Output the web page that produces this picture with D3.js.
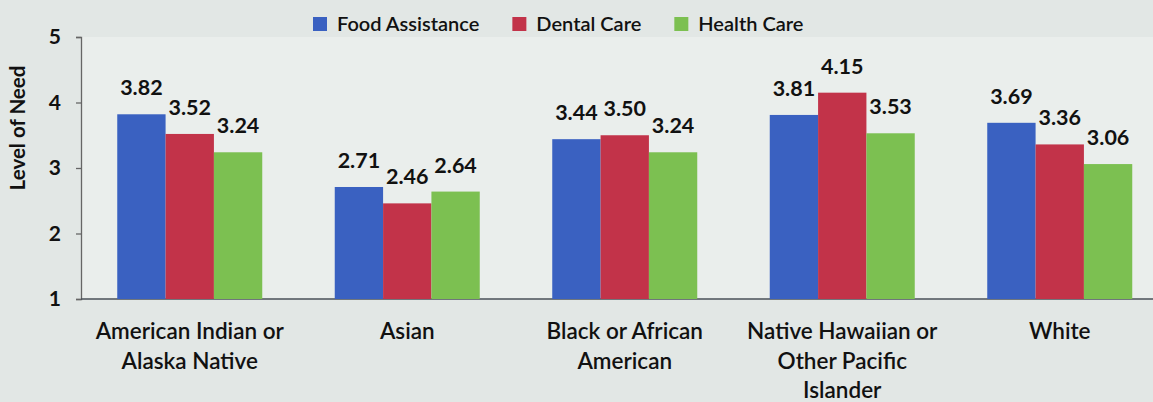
<html>
<head>
    <style>
        body {
            margin: 0;
            font-family: Lato, "Open Sans", sans-serif;
        }
    </style>
    <script src="https://cdn.jsdelivr.net/npm/d3@7"></script>
</head>
<body>
    <div class="mainView"></div>
</body>
<script>
    // values
    let groups = ["American Indian or Alaska Native", "Asian", "Black or African American",
        "Native Hawaiian or Other Pacific Islander", "White"]
    let groupLines = [
        ["American Indian or", "Alaska Native"],
        ["Asian"],
        ["Black or African", "American"],
        ["Native Hawaiian or", "Other Pacific", "Islander"],
        ["White"]
    ]
    let series = ["Food Assistance", "Dental Care", "Health Care"]
    let foodAssistance = [3.82, 2.71, 3.44, 3.81, 3.69]
    let dentalCare = [3.52, 2.46, 3.50, 4.15, 3.36]
    let healthCare = [3.24, 2.64, 3.24, 3.53, 3.06]
    let yTicks = [1, 2, 3, 4, 5]
    let colors = ["#3a61c1", "#c23349", "#7cc051"]

    function getChartConfig() {
        let width = 1153;
        let height = 402;
        let margin = { top: 37, left: 81 }
        let bodyHeight = 262;
        let bodyWidth = 1087.5;
        let svg = d3.select(".mainView")
            .append("svg")
            .attr("width", width)
            .attr("height", height)
        svg.append("rect")
            .attr("width", width)
            .attr("height", height)
            .attr("fill", "#e2e7e5")
        let container = svg.append("g")
            .attr("transform", "translate(" + [margin.left, margin.top] + ")")
        return { width, height, margin, bodyHeight, bodyWidth, svg, container };
    }

    function getChartScales(config) {
        let { bodyWidth, bodyHeight } = config;
        let xScale = d3.scaleBand()
            .domain(groups)
            .range([0, bodyWidth])
            .paddingInner(1 / 3)
            .paddingOuter(1 / 6)
        let subScale = d3.scaleBand()
            .domain(series)
            .range([0, xScale.bandwidth()])
        let yScale = d3.scaleLinear()
            .domain([1, 5])
            .range([bodyHeight, 0])
        let cScale = d3.scaleOrdinal()
            .domain(series)
            .range(colors)
        return { xScale, subScale, yScale, cScale }
    }

    function drawAxes(scales, config) {
        let { xScale, yScale } = scales;
        let { container, bodyHeight, width, margin } = config;

        container.append("rect")
            .attr("width", width - margin.left)
            .attr("height", bodyHeight)
            .attr("fill", "#eaeeec")

        let axisY = d3.axisLeft(yScale)
            .tickValues(yTicks)
            .tickFormat(d3.format("d"))
            .tickSize(5)
            .tickPadding(15)
        let gy = container.append("g").call(axisY)
        gy.select(".domain").attr("stroke", "#666").attr("stroke-width", 1.3)
        gy.selectAll(".tick line").attr("stroke", "#666").attr("stroke-width", 1.3)
        gy.selectAll("text")
            .attr("font-family", "Lato, sans-serif")
            .attr("font-size", 21)
            .attr("font-weight", "bold")
            .attr("fill", "#111")

        // baseline across the plot
        container.append("line")
            .attr("x1", 0)
            .attr("x2", width - margin.left)
            .attr("y1", yScale(1))
            .attr("y2", yScale(1))
            .attr("stroke", "#4a5058")
            .attr("stroke-width", 1.6)

        // category labels
        let labels = container.append("g")
            .selectAll("text")
            .data(groups)
            .enter()
            .append("text")
            .attr("text-anchor", "middle")
            .attr("font-size", 22.5)
            .attr("font-weight", 600)
            .attr("fill", "#111")
            .attr("transform", d => "translate(" + (xScale(d) + xScale.bandwidth() / 2) + "," + (bodyHeight + 40) + ")")
        labels.selectAll("tspan")
            .data((d, i) => groupLines[i])
            .enter()
            .append("tspan")
            .attr("x", 0)
            .attr("y", (d, i) => i * 29.5)
            .text(d => d)

        config.svg.append("text")
            .attr("transform", "translate(25," + 128 + ") rotate(-90)")
            .attr("text-anchor", "middle")
            .attr("font-size", 20.5)
            .attr("font-weight", "bold")
            .attr("fill", "#111")
            .text("Level of Need")
    }

    function drawBars(scales, config) {
        let { xScale, subScale, yScale, cScale } = scales;
        let { container } = config;
        let values = [foodAssistance, dentalCare, healthCare]
        let data = [];
        groups.forEach((g, i) => {
            series.forEach((s, j) => {
                data.push({ group: g, series: s, value: values[j][i] })
            })
        })
        container.selectAll(".bar")
            .data(data)
            .enter()
            .append("rect")
            .attr("class", "bar")
            .attr("x", d => xScale(d.group) + subScale(d.series))
            .attr("y", d => yScale(d.value))
            .attr("width", subScale.bandwidth())
            .attr("height", d => yScale(1) - yScale(d.value))
            .attr("fill", d => cScale(d.series))

        container.selectAll(".val")
            .data(data)
            .enter()
            .append("text")
            .attr("class", "val")
            .attr("text-anchor", "middle")
            .attr("x", d => xScale(d.group) + subScale(d.series) + subScale.bandwidth() / 2)
            .attr("y", d => yScale(d.value) - 19)
            .attr("font-size", 21.5)
            .attr("font-weight", "bold")
            .attr("fill", "#111")
            .text(d => d3.format(".2f")(d.value))
    }

    function drawLegend(scales, config) {
        let { cScale } = scales;
        let x = 313;
        series.forEach(s => {
            let item = config.svg.append("g")
            item.append("rect")
                .attr("x", x)
                .attr("y", 17)
                .attr("width", 14)
                .attr("height", 14)
                .attr("fill", cScale(s))
            let t = item.append("text")
                .attr("x", x + 24)
                .attr("y", 31)
                .attr("font-size", 20)
                .attr("font-weight", 600)
                .attr("fill", "#111")
                .text(s)
            x = x + 24 + t.node().getComputedTextLength() + 33;
        })
    }

    function showData() {
        let config = getChartConfig();
        let scales = getChartScales(config);
        drawAxes(scales, config);
        drawBars(scales, config);
        drawLegend(scales, config);
    }
    showData();
</script>
</html>
